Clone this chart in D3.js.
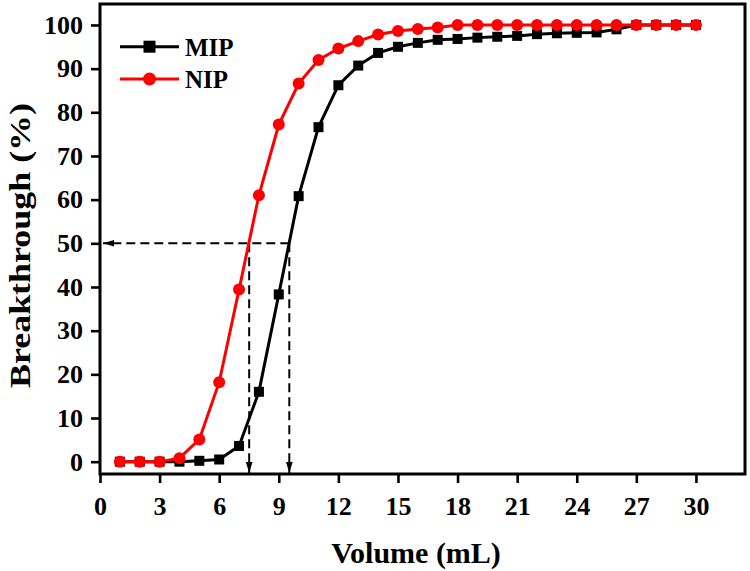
<!DOCTYPE html>
<html>
<head>
<meta charset="utf-8">
<script src="https://cdn.jsdelivr.net/npm/d3@7/dist/d3.min.js"></script>
<style>
  html, body { margin: 0; padding: 0; background: #fff; }
  svg { display: block; }
  text { font-family: "Liberation Serif", "Times New Roman", serif; font-weight: bold; fill: #000; }
</style>
</head>
<body>
<svg id="chart" width="750" height="571"></svg>
<script>
// ---- data ----
const volume = [1,2,3,4,5,6,7,8,9,10,11,12,13,14,15,16,17,18,19,20,21,22,23,24,25,26,27,28,29,30];
const mip = [0,0,0,0,0.2,0.5,3.6,16.0,38.3,60.8,76.6,86.2,90.7,93.6,95.0,95.9,96.6,96.8,97.1,97.3,97.5,97.9,98.1,98.2,98.3,99.0,100,100,100,100];
const nip = [0,0,0,0.8,5.1,18.2,39.4,61.0,77.2,86.6,92.0,94.6,96.3,97.8,98.6,99.1,99.4,100,100,100,100,100,100,100,100,100,100,100,100,100];
const xTicks = [0,3,6,9,12,15,18,21,24,27,30];
const yTicks = [0,10,20,30,40,50,60,70,80,90,100];
const seriesNames = ["MIP", "NIP"];
const seriesColors = ["#000000", "#ff0000"];
const halfLevel = 50;
const halfVolumes = [7.51, 9.53]; // NIP, MIP at 50 %
const xTitle = "Volume (mL)";
const yTitle = "Breakthrough (%)";

// ---- layout ----
const L = 100, R = 745, T = 4, B = 474;
const svg = d3.select("#chart");

const x = d3.scaleLinear().domain([0, 32.47]).range([L, R]);
const y = d3.scaleLinear().domain([-2.82, 104.8]).range([B, T]);

// arrow marker
const defs = svg.append("defs");
defs.append("marker")
  .attr("id", "arrow")
  .attr("viewBox", "0 0 10 6")
  .attr("refX", 10).attr("refY", 3)
  .attr("markerUnits", "userSpaceOnUse")
  .attr("markerWidth", 11).attr("markerHeight", 7)
  .attr("orient", "auto")
  .append("path").attr("d", "M0,0 L10,3 L0,6 Z").attr("fill", "#000");

// axes
const yAxis = d3.axisLeft(y).tickValues(yTicks).tickSize(9).tickPadding(8).tickFormat(d3.format("d"));
const xAxis = d3.axisBottom(x).tickValues(xTicks).tickSize(9).tickPadding(14).tickFormat(d3.format("d"));

const gy = svg.append("g").attr("transform", `translate(${L},0)`).call(yAxis);
const gx = svg.append("g").attr("transform", `translate(0,${B})`).call(xAxis);
[gx, gy].forEach(g => {
  g.select(".domain").remove();
  g.selectAll(".tick line").attr("stroke", "#000").attr("stroke-width", 2.6);
  g.selectAll(".tick text").attr("font-size", 26).attr("font-family", "Liberation Serif, serif").attr("font-weight", "bold").attr("fill", "#000");
});

// frame
svg.append("rect")
  .attr("x", L).attr("y", T).attr("width", R - L).attr("height", B - T)
  .attr("fill", "none").attr("stroke", "#000").attr("stroke-width", 3);

// dashed guide lines
const dash = svg.append("g").attr("stroke", "#000").attr("stroke-width", 2).attr("stroke-dasharray", "9,5").attr("fill", "none");
dash.append("line")
  .attr("x1", x(d3.max(halfVolumes))).attr("y1", y(halfLevel))
  .attr("x2", x(0) + 3).attr("y2", y(halfLevel))
  .attr("marker-end", "url(#arrow)");
halfVolumes.forEach(v => {
  dash.append("line")
    .attr("x1", x(v)).attr("y1", y(halfLevel))
    .attr("x2", x(v)).attr("y2", B - 1)
    .attr("marker-end", "url(#arrow)");
});

// series
const line = d3.line().x((d, i) => x(volume[i])).y(d => y(d));

// MIP
svg.append("path").datum(mip)
  .attr("d", line).attr("fill", "none").attr("stroke", seriesColors[0]).attr("stroke-width", 3);
const sq = 10;
svg.append("g").selectAll("rect").data(mip).join("rect")
  .attr("x", (d, i) => x(volume[i]) - sq / 2).attr("y", d => y(d) - sq / 2)
  .attr("width", sq).attr("height", sq).attr("fill", seriesColors[0]);

// NIP
svg.append("path").datum(nip)
  .attr("d", line).attr("fill", "none").attr("stroke", seriesColors[1]).attr("stroke-width", 3);
svg.append("g").selectAll("circle").data(nip).join("circle")
  .attr("cx", (d, i) => x(volume[i])).attr("cy", d => y(d))
  .attr("r", 6).attr("fill", seriesColors[1]);

// legend
const legendRows = [46.7, 79];
seriesNames.forEach((name, i) => {
  const g = svg.append("g");
  const ly = legendRows[i];
  g.append("line").attr("x1", 120).attr("x2", 179).attr("y1", ly).attr("y2", ly)
    .attr("stroke", seriesColors[i]).attr("stroke-width", 3);
  if (i === 0) {
    g.append("rect").attr("x", 149.5 - 6).attr("y", ly - 6).attr("width", 12).attr("height", 12).attr("fill", seriesColors[i]);
  } else {
    g.append("circle").attr("cx", 149.5).attr("cy", ly).attr("r", 6.5).attr("fill", seriesColors[i]);
  }
  g.append("text").attr("x", 185).attr("y", ly + 9).attr("font-size", 25).text(name);
});

// axis titles
svg.append("text")
  .attr("x", 416).attr("y", 563)
  .attr("text-anchor", "middle").attr("font-size", 30)
  .text(xTitle);
svg.append("text")
  .attr("transform", "translate(30,245.5) rotate(-90)")
  .attr("text-anchor", "middle").attr("font-size", 30)
  .attr("textLength", 285).attr("lengthAdjust", "spacingAndGlyphs")
  .text(yTitle);
</script>
</body>
</html>
